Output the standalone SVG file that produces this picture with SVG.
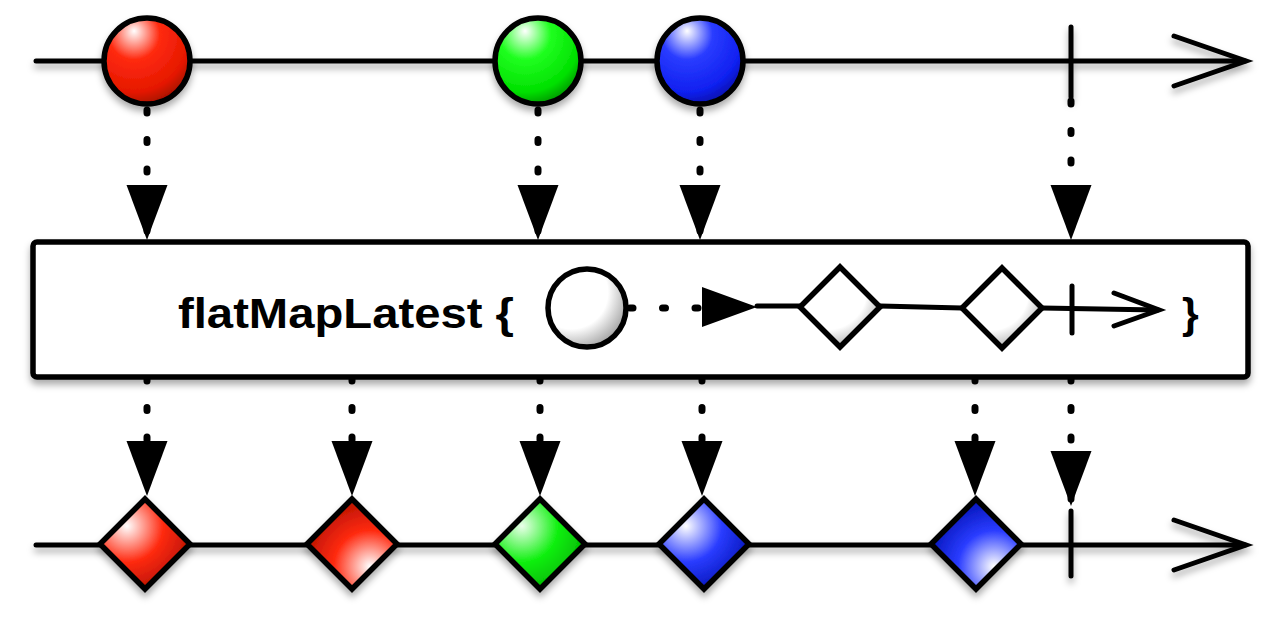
<svg xmlns="http://www.w3.org/2000/svg" width="1280" height="620" viewBox="0 0 1280 620">
<style>
.ln{stroke:#000;stroke-width:5;fill:none;stroke-linecap:round}
.sh{filter:url(#shadow)}
.dash{stroke:#000;stroke-width:7;fill:none;stroke-linecap:round;stroke-dasharray:3 26.5}
.node{stroke:#000;stroke-width:5.5;stroke-linejoin:miter}
.lbl{font-family:"Liberation Sans",Arial,Helvetica,sans-serif;font-weight:bold;font-size:43px;fill:#000}
</style>
<defs>
<filter id="shadow" x="-20%" y="-20%" width="140%" height="160%">
<feDropShadow dx="0" dy="5" stdDeviation="3.5" flood-color="#000" flood-opacity="0.33"/>
</filter>
<marker id="ah" markerUnits="userSpaceOnUse" markerWidth="56" markerHeight="42" refX="55" refY="20.5" orient="auto">
<path d="M0,0 L55,20.5 L0,41 Z" fill="#000"/>
</marker>
<radialGradient id="gRed" cx="0.35" cy="0.25" r="0.85" fx="0.35" fy="0.15">
<stop offset="0" stop-color="#fff"/><stop offset="0.35" stop-color="#ff2a10"/><stop offset="0.75" stop-color="#e51800"/><stop offset="1" stop-color="#8a0c00"/>
</radialGradient>
<radialGradient id="gGreen" cx="0.35" cy="0.25" r="0.85" fx="0.35" fy="0.15">
<stop offset="0" stop-color="#fff"/><stop offset="0.35" stop-color="#20ff20"/><stop offset="0.75" stop-color="#00e000"/><stop offset="1" stop-color="#007a00"/>
</radialGradient>
<radialGradient id="gBlue" cx="0.35" cy="0.25" r="0.85" fx="0.35" fy="0.15">
<stop offset="0" stop-color="#fff"/><stop offset="0.35" stop-color="#2a3cff"/><stop offset="0.75" stop-color="#1020f0"/><stop offset="1" stop-color="#000a90"/>
</radialGradient>
<radialGradient id="gWhite" cx="0.3" cy="0.3" r="0.85">
<stop offset="0" stop-color="#fff"/><stop offset="0.55" stop-color="#fff"/><stop offset="1" stop-color="#8a8a8a"/>
</radialGradient>
<radialGradient id="dRedA" cx="0.3" cy="0.3" r="0.8">
<stop offset="0" stop-color="#fff"/><stop offset="0.5" stop-color="#ff2a10"/><stop offset="1" stop-color="#b01000"/>
</radialGradient>
<radialGradient id="dRedB" cx="0.7" cy="0.75" r="0.8">
<stop offset="0" stop-color="#fff"/><stop offset="0.5" stop-color="#ff2a10"/><stop offset="1" stop-color="#b01000"/>
</radialGradient>
<radialGradient id="dGreen" cx="0.3" cy="0.3" r="0.8">
<stop offset="0" stop-color="#eaffea"/><stop offset="0.5" stop-color="#10f010"/><stop offset="1" stop-color="#00b000"/>
</radialGradient>
<radialGradient id="dBlueA" cx="0.3" cy="0.3" r="0.8">
<stop offset="0" stop-color="#fff"/><stop offset="0.5" stop-color="#2a3cff"/><stop offset="1" stop-color="#0010b0"/>
</radialGradient>
<radialGradient id="dBlueB" cx="0.7" cy="0.75" r="0.8">
<stop offset="0" stop-color="#fff"/><stop offset="0.5" stop-color="#2a3cff"/><stop offset="1" stop-color="#0010b0"/>
</radialGradient>
<radialGradient id="dWhite" cx="0.35" cy="0.3" r="0.8">
<stop offset="0" stop-color="#fff"/><stop offset="0.6" stop-color="#fff"/><stop offset="1" stop-color="#9a9a9a"/>
</radialGradient>
</defs>

<g id="top-timeline" class="sh">
<line class="ln" x1="36" y1="61" x2="1245" y2="61"/>
<polyline class="ln" points="1174,36 1246,61 1174,86"/>
<line class="ln" x1="1071" y1="27" x2="1071" y2="97"/>
</g>

<g id="bottom-timeline" class="sh">
<line class="ln" x1="36" y1="545" x2="1245" y2="545"/>
<polyline class="ln" points="1174,520 1246,545 1174,570"/>
<line class="ln" x1="1071" y1="511" x2="1071" y2="576"/>
</g>

<g id="connectors">
<line class="dash" x1="147" y1="110" x2="147" y2="240" marker-end="url(#ah)"/>
<line class="dash" x1="538" y1="110" x2="538" y2="240" marker-end="url(#ah)"/>
<line class="dash" x1="700" y1="110" x2="700" y2="240" marker-end="url(#ah)"/>
<line class="dash" x1="1071" y1="101" x2="1071" y2="240" marker-end="url(#ah)"/>
<line class="dash" x1="147" y1="378" x2="147" y2="496" marker-end="url(#ah)"/>
<line class="dash" x1="352" y1="378" x2="352" y2="496" marker-end="url(#ah)"/>
<line class="dash" x1="540" y1="378" x2="540" y2="496" marker-end="url(#ah)"/>
<line class="dash" x1="702" y1="378" x2="702" y2="496" marker-end="url(#ah)"/>
<line class="dash" x1="975" y1="378" x2="975" y2="496" marker-end="url(#ah)"/>
<line class="dash" x1="1071" y1="378" x2="1071" y2="506" marker-end="url(#ah)"/>
</g>

<g id="node-red" class="sh"><circle class="node" cx="147" cy="61" r="43" fill="url(#gRed)"/></g>
<g id="node-green" class="sh"><circle class="node" cx="538" cy="61" r="43" fill="url(#gGreen)"/></g>
<g id="node-blue" class="sh"><circle class="node" cx="700" cy="61" r="43" fill="url(#gBlue)"/></g>

<g id="operator-box">
<rect class="sh" x="33" y="242" width="1215" height="135" rx="4" fill="#fff" stroke="#000" stroke-width="5.5"/>
<text class="lbl" x="178" y="328" textLength="336" lengthAdjust="spacingAndGlyphs">flatMapLatest {</text>
<line class="ln" x1="630" y1="308" x2="700" y2="308" style="stroke-dasharray:3 29.5;stroke-width:7"/>
<path d="M702,287 L757,307 L702,327 Z" fill="#000"/>
<polyline class="ln" points="757,306 800,306"/>
<line class="ln" x1="880" y1="306" x2="962" y2="308"/>
<line class="ln" x1="1042" y1="308" x2="1158" y2="310"/>
<polyline class="ln" points="1114,293 1159,310 1114,326"/>
<line class="ln" x1="1072" y1="286" x2="1072" y2="333"/>
<circle class="node" cx="587" cy="308" r="39" fill="url(#gWhite)"/>
<path class="node" d="M840,267 L880,307 L840,347 L800,307 Z" fill="url(#dWhite)"/>
<path class="node" d="M1002,268 L1042,308 L1002,348 L962,308 Z" fill="url(#dWhite)"/>
<text class="lbl" x="1182" y="328">}</text>
</g>

<g id="out-red-1" class="sh"><path class="node" d="M145,499 L190,544 L145,589 L100,544 Z" fill="url(#dRedA)"/></g>
<g id="out-red-2" class="sh"><path class="node" d="M352,499 L397,544 L352,589 L307,544 Z" fill="url(#dRedB)"/></g>
<g id="out-green" class="sh"><path class="node" d="M540,499 L585,544 L540,589 L495,544 Z" fill="url(#dGreen)"/></g>
<g id="out-blue-1" class="sh"><path class="node" d="M704,499 L749,544 L704,589 L659,544 Z" fill="url(#dBlueA)"/></g>
<g id="out-blue-2" class="sh"><path class="node" d="M976,499 L1021,544 L976,589 L931,544 Z" fill="url(#dBlueB)"/></g>
</svg>
